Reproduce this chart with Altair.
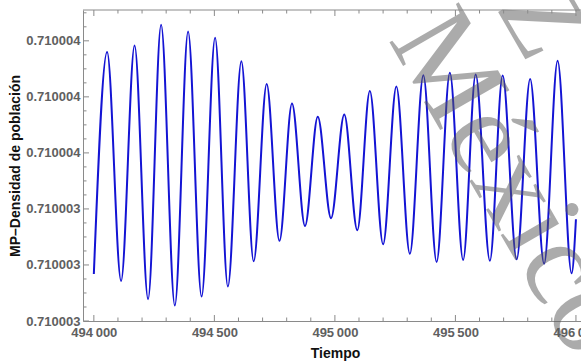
import altair as alt
import pandas as pd

# Extremes of the oscillation (Tiempo, MP-Densidad)
tiempo = [494000, 494055, 494113, 494169, 494225, 494279, 494336, 494391,
          494447, 494503, 494556, 494612, 494663, 494717, 494770, 494822,
          494876, 494929, 494984, 495039, 495093, 495145, 495200, 495255,
          495311, 495367, 495422, 495477, 495532, 495584, 495643, 495696,
          495754, 495810, 495868, 495924, 495982, 496000]
densidad = [0.710003168, 0.710003960, 0.710003143, 0.710003983, 0.710003078,
            0.710004057, 0.710003055, 0.710004033, 0.710003087, 0.710004011,
            0.710003123, 0.710003927, 0.710003213, 0.710003846, 0.710003286,
            0.710003776, 0.710003339, 0.710003729, 0.710003367, 0.710003737,
            0.710003324, 0.710003821, 0.710003274, 0.710003837, 0.710003240,
            0.710003877, 0.710003211, 0.710003886, 0.710003218, 0.710003880,
            0.710003215, 0.710003876, 0.710003220, 0.710003864, 0.710003204,
            0.710003929, 0.710003170, 0.710003363]

x_major = [494000, 494500, 495000, 495500, 496000]
x_minor = [494100, 494200, 494300, 494400, 494600, 494700, 494800, 494900,
           495100, 495200, 495300, 495400, 495600, 495700, 495800, 495900]
y_major = [0.7100030, 0.7100032, 0.7100034, 0.7100036, 0.7100038, 0.7100040]
y_minor = [0.71000305, 0.7100031, 0.71000315, 0.71000325, 0.7100033, 0.71000335,
           0.71000345, 0.7100035, 0.71000355, 0.71000365, 0.7100037, 0.71000375,
           0.71000385, 0.7100039, 0.71000395, 0.71000405, 0.7100041]

W, H = 498, 311
FRAME = "#8a8a8a"
xdom = [493955, 496021]
ydom = [0.7100030, 0.71000411]

xs = alt.Scale(domain=xdom, nice=False, zero=False)
ys = alt.Scale(domain=ydom, nice=False, zero=False)

df = pd.DataFrame({"t": tiempo, "d": densidad})

line = alt.Chart(df).mark_line(
    color="#1414d4", strokeWidth=2, interpolate="monotone", clip=True
).encode(
    x=alt.X("t:Q", scale=xs, axis=alt.Axis(
        values=x_major, title="Tiempo", grid=False, ticks=False,
        domain=True, domainColor=FRAME, domainWidth=1,
        labelExpr="replace(format(datum.value, ','), ',', '\u2009')",
        labelFont="Liberation Sans", labelFontSize=13, labelFontWeight="bold",
        labelColor="#606060", labelPadding=5, labelFlush=False, labelOverlap=False,
        titleFont="Liberation Sans", titleFontSize=14, titleFontWeight="bold",
        titleColor="#111111", titleX=252, titleY=32, titleBaseline="middle",
        titleAlign="center")),
    y=alt.Y("d:Q", scale=ys, axis=alt.Axis(
        values=y_major, format=".6f", title="MP–Densidad de población",
        grid=False, ticks=False, domain=True, domainColor=FRAME, domainWidth=1,
        labelFont="Liberation Sans", labelFontSize=13, labelFontWeight="bold",
        labelColor="#606060", labelPadding=3, labelOverlap=False,
        titleFont="Liberation Sans", titleFontSize=14, titleFontWeight="bold",
        titleColor="#111111", titleX=-68, titleY=155.5, titleBaseline="middle",
        titleAlign="center", titleAngle=270)),
)

top = alt.Chart(pd.DataFrame({"k": [0]})).mark_rule(color=FRAME, strokeWidth=1).encode(
    x=alt.value(0), x2=alt.value(W), y=alt.value(0))

def xticks(vals, length):
    d = pd.DataFrame({"t": vals})
    bottom = alt.Chart(d).mark_rule(color=FRAME, strokeWidth=1).encode(
        x=alt.X("t:Q", scale=xs), y=alt.value(H), y2=alt.value(H - length))
    upper = alt.Chart(d).mark_rule(color=FRAME, strokeWidth=1).encode(
        x=alt.X("t:Q", scale=xs), y=alt.value(0), y2=alt.value(length))
    return bottom + upper

def yticks(vals, length):
    d = pd.DataFrame({"d": vals})
    return alt.Chart(d).mark_rule(color=FRAME, strokeWidth=1).encode(
        y=alt.Y("d:Q", scale=ys), x=alt.value(0), x2=alt.value(length))

wm = alt.Chart(pd.DataFrame({"w": ["México"]})).mark_text(
    font="Liberation Serif", fontSize=122, angle=60,
    color="#5a5a5a", opacity=0.5, align="center", baseline="middle"
).encode(text="w:N", x=alt.value(430), y=alt.value(172))

wm2 = alt.Chart(pd.DataFrame({"w": ["Z"]})).mark_text(
    font="Liberation Serif", fontSize=110, angle=60,
    color="#5a5a5a", opacity=0.5, align="center", baseline="middle"
).encode(text="w:N", x=alt.value(458), y=alt.value(10))

chart = alt.layer(
    line, wm, wm2, top,
    xticks(x_major, 6), xticks(x_minor, 3.5),
    yticks(y_major, 6), yticks(y_minor, 3.5),
).properties(
    width=W, height=H,
    autosize=alt.AutoSizeParams(type="none"),
    padding={"left": 83, "top": 10, "right": 0, "bottom": 43},
    background="white",
).configure_view(stroke=None)

chart.save("out.html", embed_options={"renderer": "svg", "actions": False})
